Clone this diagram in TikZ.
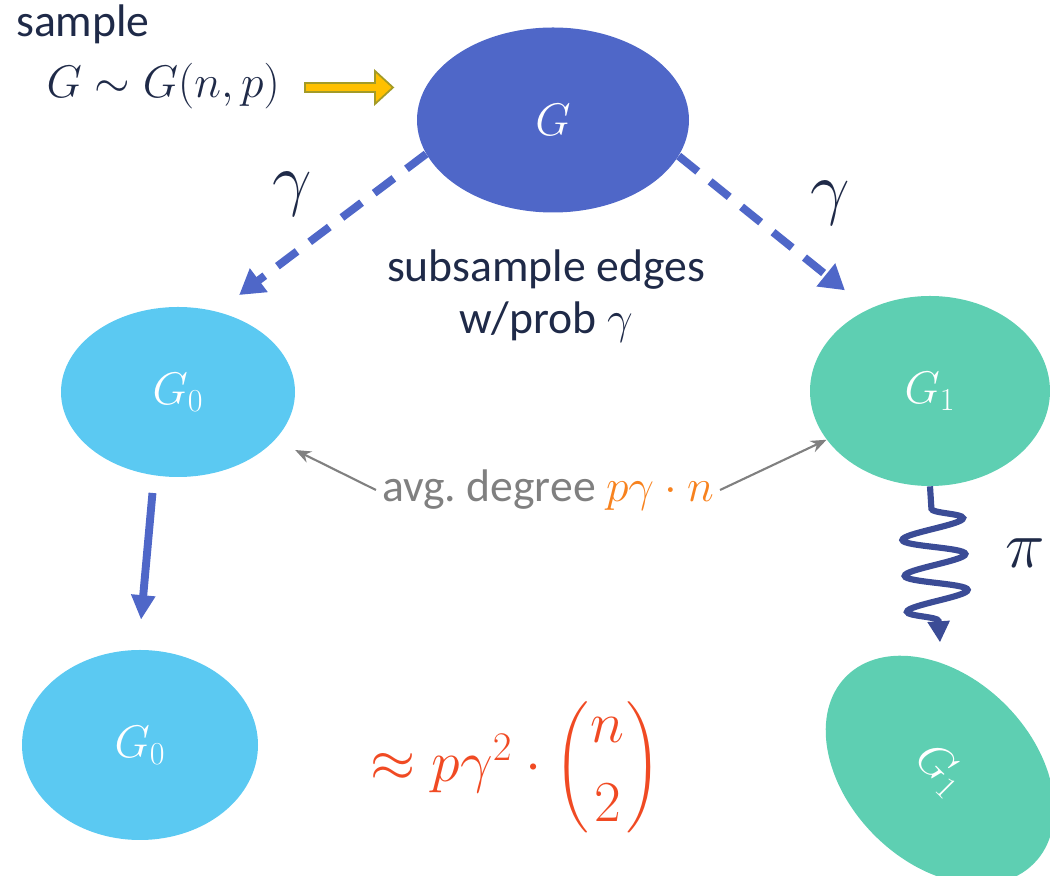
\RequirePackage{fix-cm}
\documentclass[tikz,border=0pt]{standalone}
\usepackage{amsmath}
\usepackage{fontspec}
\setmainfont{Carlito}
\usetikzlibrary{shapes.geometric, arrows.meta, decorations.pathmorphing, positioning}

\definecolor{gblue}{HTML}{4F67C8}
\definecolor{gzero}{HTML}{5BC9F2}
\definecolor{gone}{HTML}{5ECFB2}
\definecolor{navy}{HTML}{1F2A48}
\definecolor{wavyblue}{HTML}{3B4C96}
\definecolor{deggray}{HTML}{808080}
\definecolor{degorange}{HTML}{F7821E}
\definecolor{approxred}{HTML}{F04A23}
\definecolor{arrowgold}{HTML}{FFC000}
\definecolor{arrowedge}{HTML}{A39B27}

\begin{document}
\begin{tikzpicture}[
    graphnode/.style={ellipse, inner sep=0pt, text=white, font=\fontsize{26}{30}\selectfont},
    bodytext/.style={text=navy, font=\fontsize{26}{30}\selectfont},
    gammalabel/.style={text=navy, font=\fontsize{40}{44}\selectfont},
    dasharrow/.style={draw=gblue, line width=4.5pt, dash pattern=on 14pt off 9pt, -{Triangle[length=14pt,width=16pt]}},
    degarrow/.style={draw=deggray, line width=1.2pt, -{Stealth[length=9pt,width=7pt]}}
]
    \useasboundingbox (0,0) rectangle (21,17.52);

    % Graphs
    \node[graphnode, fill=gblue, minimum width=5.44cm, minimum height=3.7cm] (G) at (11.06,15.12) {$G$};
    \node[graphnode, fill=gzero, minimum width=4.68cm, minimum height=3.4cm] (G0) at (3.56,9.68) {$G_0$};
    \node[graphnode, fill=gone, minimum width=4.8cm, minimum height=3.8cm] (G1) at (18.6,9.7) {$G_1$};
    \node[graphnode, fill=gzero, minimum width=4.72cm, minimum height=3.8cm] (G0b) at (2.8,2.62) {$G_0$};
    \node[graphnode, fill=gone, minimum width=5.3cm, minimum height=3.7cm, rotate=-45] (G1b) at (18.8,2.12) {$G_1$};

    % Sampling
    \node[bodytext, anchor=base west] (sample) at (0.2,16.78) {sample};
    \node[bodytext, anchor=base east] (dist) at (5.72,15.56) {$G \sim G(n,p)$};
    \draw[fill=arrowgold, draw=arrowedge, line width=1pt] (6.1,15.86) -- (7.5,15.86) -- (7.5,16.1) -- (7.86,15.77) -- (7.5,15.44) -- (7.5,15.68) -- (6.1,15.68) -- cycle;

    % Subsampling
    \draw[dasharrow, shorten >=0.55cm] (G.195) -- (G0.64);
    \draw[dasharrow, shorten >=0.6cm] (G.344) -- (G1.127);
    \node[gammalabel] (gleft) at (5.84,13.64) {$\gamma$};
    \node[gammalabel] (gright) at (16.6,13.46) {$\gamma$};
    \node[bodytext, align=center] (subsample) at (10.92,11.6) {subsample edges\\w/prob $\gamma$};

    % Degree
    \node[text=deggray, font=\fontsize{26}{30}\selectfont] (avg) at (10.96,7.72) {avg.\ degree \textcolor{degorange}{$p\gamma\cdot n$}};
    \draw[degarrow, shorten >=0.45cm] (avg.west) -- (G0);
    \draw[degarrow] (avg.east) -- (G1);

    % Next step
    \draw[draw=gblue, line width=4.5pt, -{Triangle[length=14pt,width=13pt]}, shorten <=0.35cm, shorten >=0.6cm] (G0.254) -- (G0b.91);
    \draw[draw=wavyblue, line width=3.5pt, -{Triangle[length=12pt,width=12pt]}, decorate,
        decoration={snake, amplitude=0.62cm, segment length=0.72cm, pre length=0.45cm, post length=0.4cm}]
        (G1.south) -- ([yshift=0.4cm]G1b.135);
    \node[text=navy, font=\fontsize{38}{42}\selectfont] (pi) at (20.5,6.46) {$\pi$};

    \node[text=approxred, font=\fontsize{33}{38}\selectfont] (approx) at (10.32,2.18) {$\approx p\gamma^2\cdot\biggl(\genfrac{}{}{0pt}{0}{n}{2}\biggr)$};
\end{tikzpicture}
\end{document}
